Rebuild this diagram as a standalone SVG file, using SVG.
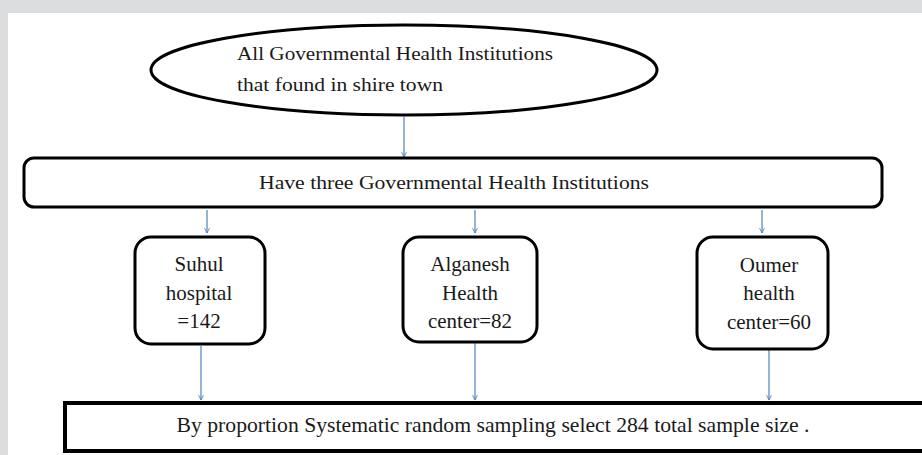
<svg xmlns="http://www.w3.org/2000/svg" width="922" height="455" viewBox="0 0 922 455">
  <style>
    .box { fill: #ffffff; stroke: #000000; stroke-width: 3; }
    .wire { stroke: #4f81bd; stroke-width: 1.2; fill: none; marker-end: url(#tip); }
    .cam { font-size: 18px; fill: #1a1a1a; }
    .tnr { font-size: 21px; fill: #1a1a1a; text-anchor: middle; }
  </style>
  <defs>
    <marker id="tip" viewBox="0 0 10 10" refX="9" refY="5" markerWidth="6" markerHeight="6" orient="auto" markerUnits="userSpaceOnUse">
      <path d="M1,1 L9,5 L1,9" fill="none" stroke="#4f81bd" stroke-width="1.5"/>
    </marker>
  </defs>

  <!-- page frame -->
  <rect x="0" y="0" width="922" height="455" fill="#dcdddf"/>
  <rect x="8" y="13" width="914" height="442" fill="#ffffff"/>

  <!-- connectors -->
  <g id="connectors">
    <line class="wire" x1="404" y1="117" x2="404" y2="157"/>
    <line class="wire" x1="207" y1="210" x2="207" y2="233"/>
    <line class="wire" x1="475" y1="210" x2="475" y2="233"/>
    <line class="wire" x1="762" y1="210" x2="762" y2="233"/>
    <line class="wire" x1="201" y1="346" x2="201" y2="400"/>
    <line class="wire" x1="475" y1="343" x2="475" y2="400"/>
    <line class="wire" x1="769" y1="350" x2="769" y2="400"/>
  </g>

  <g font-family="Liberation Serif, DejaVu Serif, serif">
    <g id="population">
      <ellipse class="box" cx="404" cy="70" rx="253" ry="45"/>
      <text class="cam" x="237" y="60" textLength="316" lengthAdjust="spacingAndGlyphs">All Governmental Health Institutions</text>
      <text class="cam" x="237" y="91" textLength="206" lengthAdjust="spacingAndGlyphs">that found in shire town</text>
    </g>

    <g id="institutions">
      <rect class="box" x="24" y="158" width="858" height="49" rx="10"/>
      <text class="cam" x="454" y="189" text-anchor="middle" textLength="390" lengthAdjust="spacingAndGlyphs">Have three Governmental Health Institutions</text>
    </g>

    <g id="suhul">
      <rect class="box" x="135" y="237" width="130" height="107" rx="16"/>
      <text class="tnr" x="199" y="271">Suhul</text>
      <text class="tnr" x="199" y="300">hospital</text>
      <text class="tnr" x="199" y="328">=142</text>
    </g>

    <g id="alganesh">
      <rect class="box" x="403" y="237" width="134" height="105" rx="16"/>
      <text class="tnr" x="470" y="271">Alganesh</text>
      <text class="tnr" x="470" y="300">Health</text>
      <text class="tnr" x="470" y="328">center=82</text>
    </g>

    <g id="oumer">
      <rect class="box" x="697" y="237" width="131" height="112" rx="16"/>
      <text class="tnr" x="769" y="272">Oumer</text>
      <text class="tnr" x="769" y="300">health</text>
      <text class="tnr" x="769" y="329">center=60</text>
    </g>

    <g id="sample">
      <rect x="65" y="403" width="880" height="48" fill="#ffffff" stroke="#000000" stroke-width="4"/>
      <text class="tnr" x="493" y="432" textLength="633" lengthAdjust="spacingAndGlyphs">By proportion Systematic random sampling select 284 total sample size .</text>
    </g>
  </g>
</svg>
